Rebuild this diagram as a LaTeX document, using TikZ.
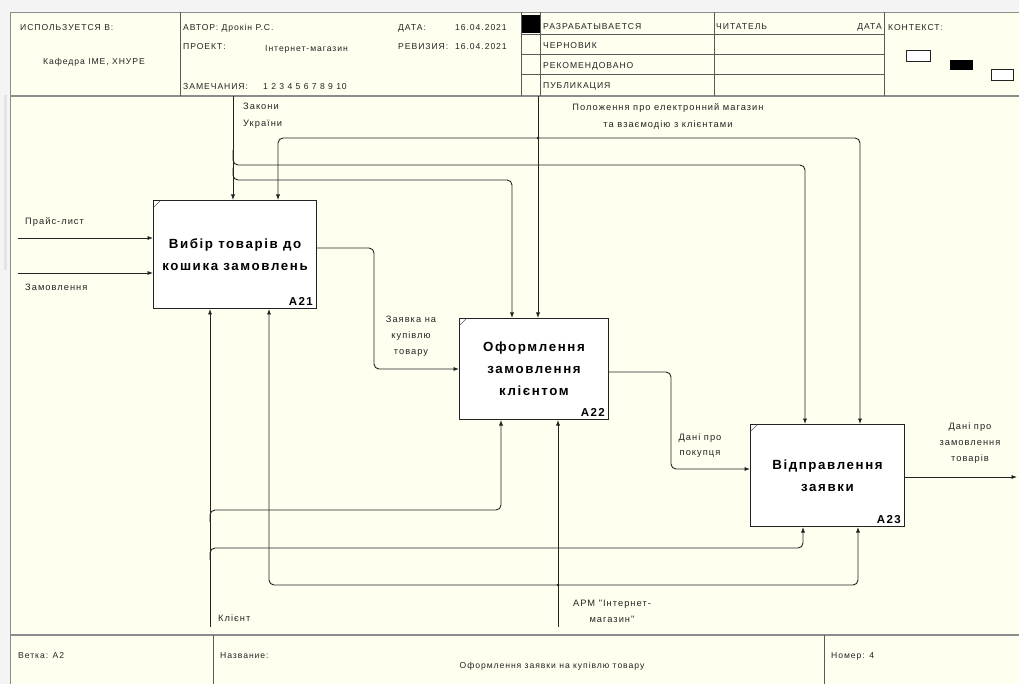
\documentclass[tikz,border=0pt]{standalone}
\usepackage{fontspec}
\setmainfont{Liberation Sans}
\newfontfamily\lblfont[LetterSpace=11]{Liberation Sans}
\newfontfamily\ttlfont[LetterSpace=12]{Liberation Sans}
\usetikzlibrary{arrows.meta}
\definecolor{cream}{RGB}{255,255,240}
\definecolor{pagebg}{RGB}{244,244,244}
\definecolor{frameg}{RGB}{140,140,140}
\definecolor{ink}{RGB}{35,35,35}
\definecolor{hline}{RGB}{90,90,90}
\begin{document}
\begin{tikzpicture}[x=1pt,y=-1pt,
  lbl/.style={font=\lblfont\fontsize{9.3}{16}\selectfont, inner sep=0pt, text=ink},
  hdr/.style={font=\lblfont\fontsize{8.6}{10}\selectfont, inner sep=0pt, text=ink},
  fun/.style={draw=ink, line width=1pt, fill=white, anchor=north west, align=center,
    inner sep=0pt, font=\ttlfont\bfseries\fontsize{13.3}{22}\selectfont},
  fid/.style={font=\ttlfont\bfseries\fontsize{11.5}{12}\selectfont, inner sep=0pt, anchor=south east},
  conn/.style={draw=ink, line width=0.9pt, rounded corners=5pt},
  arr/.style={-{Latex[length=5.5pt,width=4.2pt]}},
  grid/.style={draw=hline, line width=0.7pt}
]
\useasboundingbox (0,0) rectangle (1019,684);
% page and frame
\fill[pagebg] (0,0) rectangle (1019,684);
\fill[gray!22] (4,95) rectangle (7,270);
\fill[cream] (10,12) rectangle (1019,684);
\draw[frameg, line width=1.4pt] (10.7,684) -- (10.7,12.7) -- (1019,12.7);
\draw[frameg, line width=1.6pt] (10,96) -- (1019,96);
\draw[frameg, line width=1.8pt] (10,635) -- (1019,635);

% header grid
\draw[grid] (180,12) -- (180,96);
\draw[grid] (521,12) -- (521,96);
\draw[grid] (540,12) -- (540,96);
\draw[grid] (714,12) -- (714,96);
\draw[grid] (884,12) -- (884,96);
\draw[grid] (521,34) -- (884,34);
\draw[grid] (521,54) -- (884,54);
\draw[grid] (521,74) -- (884,74);
\fill[black] (522,15) rectangle (540,33);

% header text
\node[hdr, anchor=west] (h1) at (20,28) {ИСПОЛЬЗУЕТСЯ В:};
\node[hdr] (h2) at (94,62) {Кафедра ІМЕ, ХНУРЕ};
\node[hdr, anchor=west] (h3) at (183,28) {АВТОР: Дрокін Р.С.};
\node[hdr, anchor=west] (h4) at (398,28) {ДАТА:};
\node[hdr, anchor=west] (h5) at (455,28) {16.04.2021};
\node[hdr, anchor=west] (h6) at (183,47) {ПРОЕКТ:};
\node[hdr, anchor=west] (h7) at (265,49) {Інтернет-магазин};
\node[hdr, anchor=west] (h8) at (398,47) {РЕВИЗИЯ:};
\node[hdr, anchor=west] (h9) at (455,47) {16.04.2021};
\node[hdr, anchor=west] (h10) at (183,87) {ЗАМЕЧАНИЯ:};
\node[hdr, anchor=west] (h11) at (263,87) {1 2 3 4 5 6 7 8 9 10};
\node[hdr, anchor=west] (s1) at (543,27) {РАЗРАБАТЫВАЕТСЯ};
\node[hdr, anchor=west] (s2) at (543,46) {ЧЕРНОВИК};
\node[hdr, anchor=west] (s3) at (543,66) {РЕКОМЕНДОВАНО};
\node[hdr, anchor=west] (s4) at (543,86) {ПУБЛИКАЦИЯ};
\node[hdr, anchor=west] (r1) at (716,27) {ЧИТАТЕЛЬ};
\node[hdr, anchor=east] (r2) at (882,27) {ДАТА};
\node[hdr, anchor=west] (k1) at (888,28) {КОНТЕКСТ:};
\draw[ink, line width=0.8pt, fill=white] (906,50) rectangle (930,61);
\fill[black] (950,60) rectangle (973,70);
\draw[ink, line width=0.8pt, fill=white] (991,69) rectangle (1013,80);

% footer
\draw[grid] (213,635) -- (213,684);
\draw[grid] (824,635) -- (824,684);
\node[hdr, anchor=west] (f1) at (18,656) {Ветка: A2};
\node[hdr, anchor=west] (f2) at (220,656) {Название:};
\node[hdr] (f3) at (552,666) {Оформлення заявки на купівлю товару};
\node[hdr, anchor=west] (f4) at (831,656) {Номер: 4};

% function boxes
\node[fun, minimum width=163pt, minimum height=108pt] (a21) at (153,200) {Вибір товарів до\\кошика замовлень};
\node[fun, minimum width=149pt, minimum height=101pt] (a22) at (459,318) {Оформлення\\замовлення\\клієнтом};
\node[fun, minimum width=154pt, minimum height=102pt] (a23) at (750,424) {Відправлення\\заявки};
\node[fid] (n21) at ([xshift=-4pt,yshift=3pt]a21.south east) {A21};
\node[fid] (n22) at ([xshift=-4pt,yshift=3pt]a22.south east) {A22};
\node[fid] (n23) at ([xshift=-4pt,yshift=3pt]a23.south east) {A23};
\foreach \b in {a21,a22,a23}
  \draw[hline, line width=0.6pt] ([xshift=1pt,yshift=-7pt]\b.north west) -- ([xshift=7pt,yshift=-1pt]\b.north west);

% free ends
\coordinate (in1) at (18,238);
\coordinate (in2) at (18,273);
\coordinate (zak) at (233,96);
\coordinate (pol) at (538,96);
\coordinate (pj) at (538,138);
\coordinate (kl) at (210,627);
\coordinate (arm) at (558,627);
\coordinate (aj) at (558,585);
\coordinate (out) at (1017,477);

% inputs
\draw[conn,arr] (in1) -- ([yshift=-38pt]a21.north west);
\draw[conn,arr] (in2) -- ([yshift=-73pt]a21.north west);
% controls
\draw[conn,arr] (zak) -- ([xshift=80pt]a21.north west);
\draw[conn,arr] (233,150) |- (805,165) -- ([xshift=55pt]a23.north west);
\draw[conn,arr] (233,168) |- (512,180) -- ([xshift=53pt]a22.north west);
\draw[conn,arr] (pol) -- ([xshift=79pt]a22.north west);
\draw[conn,arr] (pj) -| ([xshift=125pt]a21.north west);
\draw[conn,arr] (pj) -| ([xshift=110pt]a23.north west);
\fill[ink] (pj) circle (1.3pt);
% outputs
\draw[conn,arr] ([yshift=-48pt]a21.north east) -| (374,300) |- ([yshift=-51pt]a22.north west);
\draw[conn,arr] ([yshift=-54pt]a22.north east) -| (671,420) |- ([yshift=-45pt]a23.north west);
\draw[conn,arr] ([yshift=-53pt]a23.north east) -- (out);
% mechanisms
\draw[conn,arr] (kl) -- ([xshift=57pt]a21.south west);
\draw[conn,arr] (210,522) |- (501,510) -- ([xshift=42pt]a22.south west);
\draw[conn,arr] (210,560) |- (803,548) -- ([xshift=53pt]a23.south west);
\draw[conn,arr] (arm) -- ([xshift=99pt]a22.south west);
\draw[conn,arr] (aj) -| ([xshift=116pt]a21.south west);
\draw[conn,arr] (aj) -| ([xshift=108pt]a23.south west);
\fill[ink] (aj) circle (1.3pt);

% arrow labels
\node[lbl, anchor=north west, align=left, font=\lblfont\fontsize{9.3}{17}\selectfont] (lzak) at (243,103) {Закони\\України};
\node[lbl, anchor=north, align=center, font=\lblfont\fontsize{9.3}{17}\selectfont] (lpol) at (668,103) {Положення про електронний магазин\\та взаємодію з клієнтами};
\node[lbl, anchor=west] (lpr) at (25,222) {Прайс-лист};
\node[lbl, anchor=west] (lzm) at (25,287) {Замовлення};
\node[lbl, anchor=north, align=center] (lzk) at (411,316) {Заявка на\\купівлю\\товару};
\node[lbl, anchor=north, align=center, font=\lblfont\fontsize{9.3}{15}\selectfont] (ldp) at (700,434) {Дані про\\покупця};
\node[lbl, anchor=north, align=center] (ldz) at (970,423) {Дані про\\замовлення\\товарів};
\node[lbl, anchor=west] (lkl) at (218,618) {Клієнт};
\node[lbl, anchor=north, align=center] (larm) at (612,600) {АРМ "Інтернет-\\магазин"};
\end{tikzpicture}
\end{document}
